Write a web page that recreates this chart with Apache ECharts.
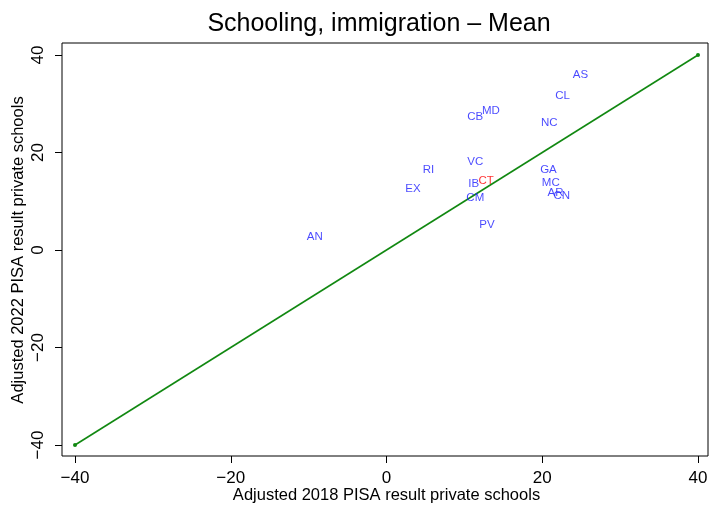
<!DOCTYPE html>
<html>
<head>
<meta charset="utf-8">
<script src="https://cdn.jsdelivr.net/npm/echarts@6/dist/echarts.min.js"></script>
<style>
  html, body { margin: 0; padding: 0; background: #fff; }
  #chart { width: 710px; height: 506px; }
</style>
</head>
<body>
<div id="chart"></div>
<script>
const FONT = '"Liberation Sans", Arial, Helvetica, sans-serif'

// regions (labels), adjusted 2018 vs 2022 results
const regions = ['AS', 'CL', 'MD', 'CB', 'NC', 'VC', 'RI', 'GA', 'IB', 'CT', 'EX', 'MC', 'AR', 'CN', 'CM', 'PV', 'AN']
const result2018 = [24.9, 22.6, 13.4, 11.4, 20.9, 11.4, 5.4, 20.8, 11.2, 12.8, 3.4, 21.1, 21.7, 22.5, 11.4, 12.9, -9.2]
const result2022 = [36.1, 31.8, 28.7, 27.5, 26.3, 18.3, 16.6, 16.6, 13.7, 14.4, 12.8, 13.9, 11.9, 11.4, 10.9, 5.4, 2.9]
const highlighted = ['CT']

// 45 degree reference line
const diagX = [-40, 40]
const diagY = [-40, 40]

const tickValues = [-40, -20, 0, 20, 40]

const labelPoints = regions.map((r, i) => ({
  name: r,
  value: [result2018[i], result2022[i]],
  label: { color: highlighted.includes(r) ? '#ff0000' : '#1a1aff' }
}))

const tickFmt = v => tickValues.includes(v) ? String(v).replace('-', '\u2212') : ''

const chart = echarts.init(document.getElementById('chart'))
chart.setOption({
  animation: false,
  textStyle: { fontFamily: FONT },
  title: {
    text: 'Schooling, immigration \u2013 Mean',
    left: 374,
    textAlign: 'center',
    top: 7,
    textStyle: { fontFamily: FONT, fontSize: 25, fontWeight: 'normal', color: '#000' }
  },
  grid: [
    // data area
    { left: 75, right: 12, top: 55, bottom: 61, outerBoundsMode: 'none', containLabel: false },
    // plot frame
    { left: 62, right: 2, top: 43, bottom: 50, show: true, borderColor: '#000', borderWidth: 1,
      backgroundColor: 'transparent', outerBoundsMode: 'none', containLabel: false }
  ],
  xAxis: [
    {
      gridIndex: 0, type: 'value', min: -40, max: 40, interval: 20, offset: 11,
      axisLine: { show: false, onZero: false },
      axisTick: { show: true, length: 7, lineStyle: { color: '#000' } },
      axisLabel: { margin: 14, fontSize: 17, color: '#000', fontFamily: FONT, formatter: tickFmt },
      splitLine: { show: false },
      name: 'Adjusted 2018 PISA result private schools',
      nameLocation: 'middle', nameGap: 31, nameMoveOverlap: false,
      nameTextStyle: { fontSize: 16.5, color: '#000', fontFamily: FONT }
    },
    { gridIndex: 1, type: 'value', show: false }
  ],
  yAxis: [
    {
      gridIndex: 0, type: 'value', min: -40, max: 40, interval: 20, offset: 13,
      axisLine: { show: false, onZero: false },
      axisTick: { show: true, length: 7, lineStyle: { color: '#000' } },
      axisLabel: { margin: 15, fontSize: 17, color: '#000', rotate: 90, fontFamily: FONT, formatter: tickFmt },
      splitLine: { show: false },
      name: 'Adjusted 2022 PISA result private schools',
      nameLocation: 'middle', nameGap: 35, nameRotate: 90, nameMoveOverlap: false,
      nameTextStyle: { fontSize: 16.5, color: '#000', fontFamily: FONT }
    },
    { gridIndex: 1, type: 'value', show: false }
  ],
  series: [
    {
      type: 'line',
      xAxisIndex: 0, yAxisIndex: 0,
      data: diagX.map((x, i) => [x, diagY[i]]),
      symbol: 'circle', symbolSize: 4,
      itemStyle: { color: '#118811' },
      lineStyle: { color: '#118811', width: 1.6 },
      silent: true
    },
    {
      type: 'scatter',
      xAxisIndex: 0, yAxisIndex: 0,
      data: labelPoints,
      symbolSize: 0,
      label: {
        show: true, position: 'inside', formatter: '{b}', offset: [0, 1],
        fontSize: 11.5, fontFamily: FONT
      },
      z: 5
    }
  ]
})
</script>
</body>
</html>
